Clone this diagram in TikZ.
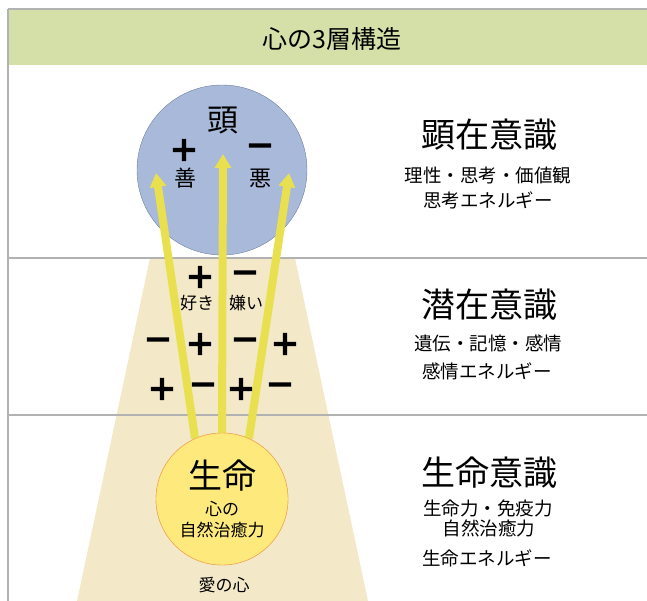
\documentclass[tikz,border=0pt]{standalone}
\usepackage{fontspec}
\setmainfont{Noto Sans CJK JP}
\newfontfamily\signfont[FakeBold=4.5]{DejaVu Sans}
\usepackage{tikz}
\usetikzlibrary{arrows.meta,positioning}

\tikzstyle{sign}=[font=\signfont\fontsize{33}{33}\selectfont,inner sep=0pt]
\tikzstyle{beam arrow}=[line width=8pt,-{Triangle[width=16pt,length=14pt]}]

\begin{document}
\begin{tikzpicture}[x=1pt,y=-1pt]
  % Colors
  \colorlet{framegray}{black!30}
  \definecolor{headergreen}{HTML}{D5E0A9}
  \definecolor{conefill}{HTML}{F3E8C7}
  \definecolor{headblue}{HTML}{A9B9D9}
  \definecolor{headline}{HTML}{6F7FA0}
  \definecolor{lifefill}{HTML}{FEEA7C}
  \definecolor{lifeline}{HTML}{F29A4A}
  \definecolor{beamcolor}{HTML}{E8E04E}

  % Styles
  \tikzstyle{frame line}=[draw=framegray,line width=2pt]
  \tikzstyle{layer title}=[font=\fontsize{34}{34}\selectfont,inner sep=0pt]
  \tikzstyle{layer text}=[font=\fontsize{18.5}{18.5}\selectfont,inner sep=0pt]
  \tikzstyle{small text}=[font=\fontsize{17}{17}\selectfont,inner sep=0pt]

  \useasboundingbox (0,0) rectangle (647,601);

  % The frame
  \fill[headergreen] (8,9) rectangle (650,65);
  \fill[conefill] (150,258) -- (295,258) -- (368,601) -- (77,601) -- cycle;
  \draw[frame line] (8,9) -- (650,9);
  \draw[frame line] (8,9) -- (8,601);
  \draw[frame line] (8,258) -- (650,258);
  \draw[frame line] (8,415) -- (650,415);

  \node[font=\fontsize{25}{25}\selectfont] (title) at (332,39) {心の3層構造};

  % The head
  \node[circle,draw=headline,fill=headblue,minimum size=170pt,inner sep=0pt] (head) at (222,170) {};
  \node[font=\fontsize{31}{31}\selectfont,inner sep=0pt] (headtext) at (223,120) {頭};
  \node[sign] (good sign) at (184,150) {+};
  \node[font=\fontsize{22}{22}\selectfont,inner sep=0pt] (good) at (185,178) {善};
  \node[sign] (bad sign) at (260,150) {−};
  \node[font=\fontsize{22}{22}\selectfont,inner sep=0pt] (bad) at (260,178) {悪};

  \coordinate (good tip) at (156,173);
  \coordinate (middle tip) at (223,154);
  \coordinate (bad tip) at (289,173);

  % The life
  \node[circle,draw=lifeline,fill=lifefill,minimum size=132pt,inner sep=0pt] (life) at (222,499) {};

  \begin{scope}[beamcolor]
    \draw[beam arrow] (life.114) -- (good tip);
    \draw[beam arrow] (life.90) -- (middle tip);
    \draw[beam arrow] (life.66) -- (bad tip);
  \end{scope}
  \node[circle,draw=lifeline,fill=lifefill,minimum size=132pt,inner sep=0pt] at (life) {};

  \node[font=\fontsize{34}{34}\selectfont,inner sep=0pt] (lifetext) at (222,476) {生命};
  \node[small text] (heartof) at (222,509) {心の};
  \node[small text] (healing) at (222,530) {自然治癒力};
  \node[small text] (love) at (224,585) {愛の心};

  % The middle layer
  \node[sign] (like sign) at (200,277) {+};
  \node[sign] (dislike sign) at (245,277) {−};
  \node[small text] (like) at (197,303) {好き};
  \node[small text] (dislike) at (246,303) {嫌い};
  \foreach \x/\s [count=\i] in {158/−,200/+,245/−,285/+}
    \node[sign] (upper sign \i) at (\x,344) {\s};
  \foreach \x/\s [count=\i] in {162/+,203/−,241/+,280/−}
    \node[sign] (lower sign \i) at (\x,389) {\s};

  % The labels
  \node[layer title] (conscious) at (489,135) {顕在意識};
  \node[layer text] (conscious a) at (488,175) {理性・思考・価値観};
  \node[layer text] (conscious b) at (488,200) {思考エネルギー};

  \node[layer title] (subconscious) at (489,305) {潜在意識};
  \node[layer text] (subconscious a) at (488,343) {遺伝・記憶・感情};
  \node[layer text] (subconscious b) at (487,371) {感情エネルギー};

  \node[layer title] (lifeconscious) at (489,473) {生命意識};
  \node[layer text] (lifeconscious a) at (488,508) {生命力・免疫力};
  \node[layer text] (lifeconscious b) at (489,528) {自然治癒力};
  \node[layer text] (lifeconscious c) at (487,558) {生命エネルギー};
\end{tikzpicture}
\end{document}
